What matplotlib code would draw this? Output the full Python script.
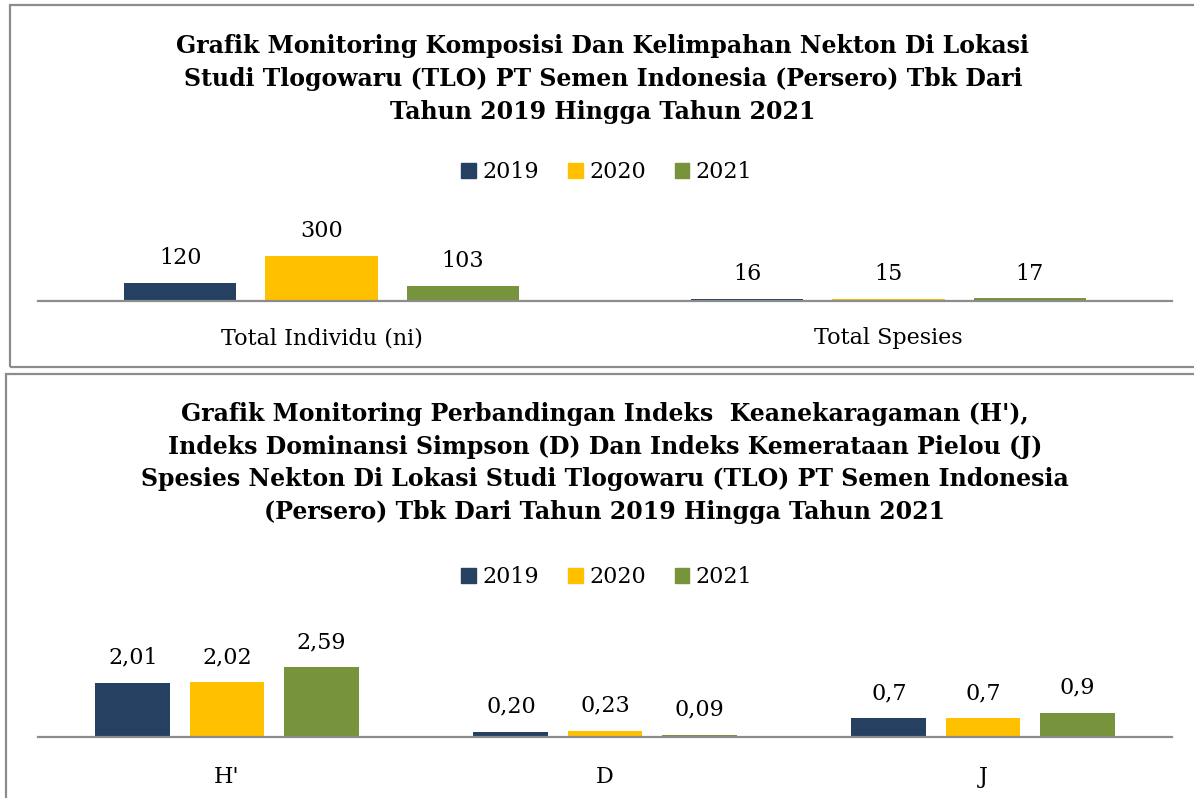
import numpy as np
import matplotlib.pyplot as plt
from matplotlib.patches import Rectangle, Patch

years = ['2019', '2020', '2021']
colors = ['#264061', '#FFC000', '#77933C']

top_cats = ['Total Individu (ni)', 'Total Spesies']
top_vals = {'2019': [120, 16], '2020': [300, 15], '2021': [103, 17]}

bot_cats = ["H'", 'D', 'J']
bot_vals = {'2019': [2.01, 0.20, 0.7], '2020': [2.02, 0.23, 0.7], '2021': [2.59, 0.09, 0.9]}
bot_labels = {'2019': ['2,01', '0,20', '0,7'], '2020': ['2,02', '0,23', '0,7'],
              '2021': ['2,59', '0,09', '0,9']}

top_title = ('Grafik Monitoring Komposisi Dan Kelimpahan Nekton Di Lokasi\n'
             'Studi Tlogowaru (TLO) PT Semen Indonesia (Persero) Tbk Dari\n'
             'Tahun 2019 Hingga Tahun 2021')
bot_title = ("Grafik Monitoring Perbandingan Indeks  Keanekaragaman (H'),\n"
             'Indeks Dominansi Simpson (D) Dan Indeks Kemerataan Pielou (J)\n'
             'Spesies Nekton Di Lokasi Studi Tlogowaru (TLO) PT Semen Indonesia\n'
             '(Persero) Tbk Dari Tahun 2019 Hingga Tahun 2021')

W, H = 1194, 798
plt.rcParams['font.family'] = 'DejaVu Serif'
fig = plt.figure(figsize=(W / 100, H / 100), dpi=100)


def fx(x):
    return x / W


def fy(y):
    return 1 - y / H


# panel frames
for x0, y0, y1 in [(10, 5, 367), (6, 374, 820)]:
    fig.patches.append(Rectangle((fx(x0), fy(y1)), fx(1300 - x0), (y1 - y0) / H,
                                 transform=fig.transFigure, fill=False,
                                 edgecolor='#8c8c8c', lw=1.6))


def draw_panel(cats, vals, labels, base_y, top_y, px_per_unit, lab_size, pad):
    ax = fig.add_axes([fx(38), fy(base_y), fx(1172 - 38), (base_y - top_y) / H])
    ax.set_xlim(-0.5, len(cats) - 0.5)
    ax.set_ylim(0, (base_y - top_y) / px_per_unit)
    x = np.arange(len(cats))
    width, step = 0.198, 0.249
    for i, yr in enumerate(years):
        pos = x + (i - 1) * step
        bars = ax.bar(pos, vals[yr], width, color=colors[i], zorder=2)
        txt = labels[yr] if labels else [str(v) for v in vals[yr]]
        ax.bar_label(bars, labels=txt, padding=10, fontsize=lab_size)
    for s in ['top', 'right', 'left']:
        ax.spines[s].set_visible(False)
    ax.spines['bottom'].set_color('#8c8c8c')
    ax.spines['bottom'].set_linewidth(1.6)
    ax.set_yticks([])
    ax.set_xticks(x)
    ax.set_xticklabels(cats, fontsize=lab_size)
    ax.tick_params(axis='x', length=0, pad=pad)
    return ax


draw_panel(top_cats, top_vals, None, 301, 190, 0.15, 16, 19)
draw_panel(bot_cats, bot_vals, bot_labels, 737, 600, 27.0, 16, 21)

fig.text(fx(603), fy(79), top_title, ha='center', va='center', fontsize=17,
         fontweight='bold', linespacing=1.45)
fig.text(fx(605), fy(463), bot_title, ha='center', va='center', fontsize=17,
         fontweight='bold', linespacing=1.45)

handles = [Patch(color=c, label=y) for c, y in zip(colors, years)]
for cy in (172, 577):
    fig.legend(handles=handles, loc='center', bbox_to_anchor=(fx(607), fy(cy)),
               ncol=3, frameon=False, fontsize=16, handlelength=0.65,
               handleheight=0.65, handletextpad=0.3, columnspacing=1.3)

fig.savefig('out.png', dpi=100)
